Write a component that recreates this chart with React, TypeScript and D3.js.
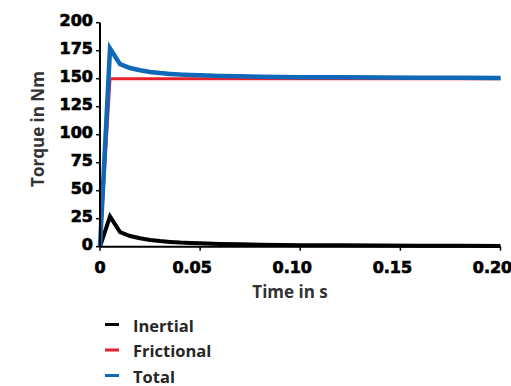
import React from "react";
import * as d3 from "d3";

// time in seconds
const times = [0, 0.005, 0.01, 0.015, 0.02, 0.025, 0.03, 0.035, 0.04, 0.045, 0.05, 0.06, 0.07, 0.08, 0.09, 0.1, 0.12, 0.14, 0.16, 0.18, 0.2];
// torque in Nm
const inertial = [0, 27, 13, 9.5, 7.5, 6, 5, 4.3, 3.7, 3.3, 3, 2.5, 2.1, 1.8, 1.6, 1.4, 1.2, 1.0, 0.9, 0.8, 0.7];
const frictional = [0, 150, 150, 150, 150, 150, 150, 150, 150, 150, 150, 150, 150, 150, 150, 150, 150, 150, 150, 150, 150];
const total = [0, 177, 163, 159.5, 157.5, 156, 155, 154.3, 153.7, 153.3, 153, 152.5, 152.1, 151.8, 151.6, 151.4, 151.2, 151, 150.9, 150.8, 150.7];

const seriesNames = ["Inertial", "Frictional", "Total"];
const seriesColors = ["#000000", "#e8202a", "#1069b8"];
const xTicks = [0, 0.05, 0.1, 0.15, 0.2];
const xTickLabels = ["0", "0.05", "0.10", "0.15", "0.20"];
const yTicks = [0, 25, 50, 75, 100, 125, 150, 175, 200];

export default function App() {
  const W = 511;
  const H = 386;

  const x = d3.scaleLinear().domain([0, 0.2]).range([100, 500.5]);
  const y = d3.scaleLinear().domain([0, 200]).range([246.7, 22.7]);

  const line = d3
    .line<number>()
    .x((d, i) => x(times[i]))
    .y((d) => y(d));

  const series = [inertial, frictional, total];
  const widths = [4, 3, 4.5];

  const tickFont = "'DejaVu Sans', sans-serif";
  const titleFont = "'Open Sans', sans-serif";

  return (
    <svg
      width={W}
      height={H}
      style={{ position: "absolute", left: 0, top: 0, background: "#fff" }}
    >
      {/* data lines */}
      {series.map((s, i) => (
        <path
          key={seriesNames[i]}
          d={line(s) || ""}
          fill="none"
          stroke={seriesColors[i]}
          strokeWidth={widths[i]}
        />
      ))}

      {/* y axis */}
      <line x1={100} x2={100} y1={y(200)} y2={y(0)} stroke="#000" strokeWidth={2} />
      {yTicks.map((t) => (
        <g key={t}>
          <line x1={96} x2={100} y1={y(t)} y2={y(t)} stroke="#000" strokeWidth={1.5} />
          <text
            x={93}
            y={y(t) + 3.4}
            textAnchor="end"
            fontFamily={tickFont}
            fontWeight="bold"
            fontSize={16}
            fill="#000"
            stroke="#000"
            strokeWidth={0.7}
          >
            {t}
          </text>
        </g>
      ))}

      {/* x axis */}
      <line x1={x(0)} x2={x(0.2)} y1={y(0)} y2={y(0)} stroke="#000" strokeWidth={2} />
      {xTicks.map((t, i) => (
        <g key={t}>
          <line x1={x(t)} x2={x(t)} y1={y(0)} y2={y(0) + 4} stroke="#000" strokeWidth={1.5} />
          <text
            x={x(t) - (i === 0 ? 0 : 8)}
            y={272.5}
            textAnchor="middle"
            fontFamily={tickFont}
            fontWeight="bold"
            fontSize={16}
            fill="#000"
            stroke="#000"
            strokeWidth={0.7}
          >
            {xTickLabels[i]}
          </text>
        </g>
      ))}

      {/* axis titles */}
      <text
        x={290}
        y={297.5}
        textAnchor="middle"
        fontFamily={titleFont}
        fontWeight="bold"
        fontSize={17}
        fill="#333"
      >
        Time in s
      </text>
      <text
        transform="translate(44,129) rotate(-90)"
        textAnchor="middle"
        fontFamily={titleFont}
        fontWeight="bold"
        fontSize={17}
        fill="#333"
      >
        Torque in Nm
      </text>

      {/* legend */}
      {seriesNames.map((name, i) => (
        <g key={name} transform={`translate(0,${324.5 + i * 25.5})`}>
          <line x1={105} x2={119} y1={0} y2={0} stroke={seriesColors[i]} strokeWidth={3} />
          <text
            x={133}
            y={7}
            fontFamily={titleFont}
            fontWeight="bold"
            fontSize={16.5}
            fill="#262626"
          >
            {name}
          </text>
        </g>
      ))}
    </svg>
  );
}
